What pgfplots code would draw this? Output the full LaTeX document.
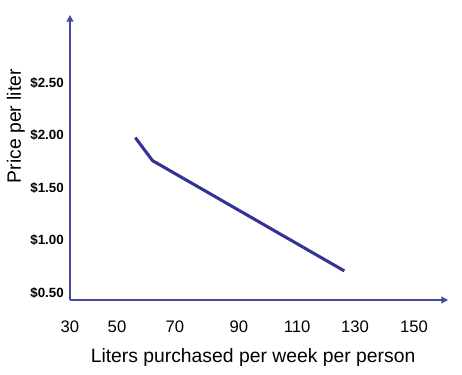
\documentclass[border=0pt]{standalone}
\usepackage{pgfplots}
\pgfplotsset{compat=1.18}
\usepackage{fontspec}
\setmainfont{Liberation Sans}
\usetikzlibrary{arrows.meta}
\definecolor{lineblue}{RGB}{51,51,150}
\definecolor{axisblue}{RGB}{70,70,165}
\begin{document}
\begin{tikzpicture}
\path[use as bounding box] (-52.5pt,-56.25pt) rectangle (294pt,225pt);
\begin{axis}[
  at={(0pt,0pt)}, anchor=south west,
  x=2.15pt, y=78.75pt,
  xmin=30, xmax=161.9,
  ymin=0.433, ymax=3.148,
  axis lines=left,
  axis line style={axisblue, line width=1.4pt, -{Triangle[length=5pt,width=5pt]}},
  major tick length=0pt,
  xtick={30,46.4,66.6,88.9,109.2,129.4,150},
  xticklabels={30,50,70,90,110,130,150},
  ytick={0.5,1,1.5,2,2.5},
  yticklabels={\$0.50,\$1.00,\$1.50,\$2.00,\$2.50},
  /pgf/number format/assume math mode=true,
  xticklabel style={font=\fontsize{12.5}{14}\selectfont, anchor=center, yshift=-20pt},
  yticklabel style={font=\fontsize{10}{12}\selectfont\bfseries, anchor=east, inner sep=0pt, xshift=-4.5pt},
  xlabel={Liters purchased per week per person},
  ylabel={Price per liter},
  label style={font=\fontsize{14.5}{16}\selectfont},
  xlabel style={at={(axis description cs:0.4841,-0.2)}, anchor=center},
  ylabel style={at={(axis description cs:-0.1429,0.61)}, anchor=center, rotate=0},
  clip=false,
]
\addplot[lineblue, line width=2.3pt, line join=round] coordinates {
  (52.8,1.979) (58.8,1.76) (125.7,0.71)
};
\end{axis}
\end{tikzpicture}
\end{document}
